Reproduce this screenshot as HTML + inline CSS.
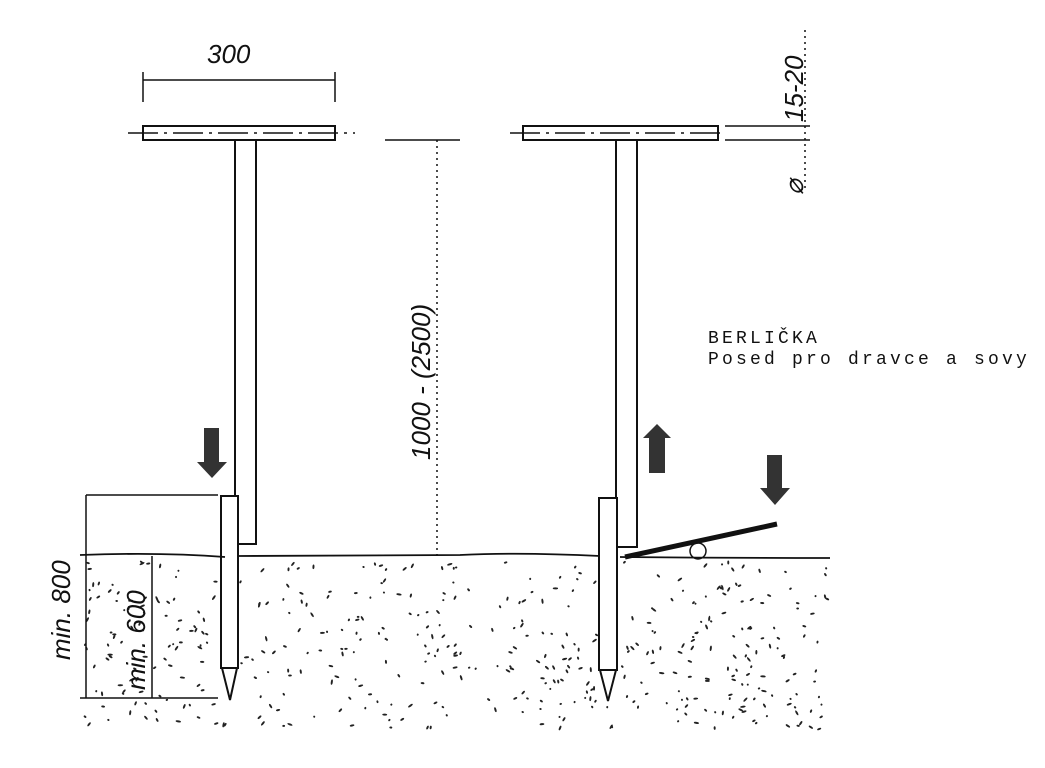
<!DOCTYPE html>
<html><head><meta charset="utf-8"><style>
html,body{margin:0;padding:0;background:#fff;}
svg{display:block}
.h{font-family:"Liberation Sans",sans-serif;font-style:italic;font-size:26px;fill:#111}
.m{font-family:"Liberation Mono",monospace;font-size:18px;letter-spacing:3.2px;fill:#111}
</style></head><body>
<svg id="s" width="1045" height="768" viewBox="0 0 1045 768" xmlns="http://www.w3.org/2000/svg">
<g id="dots" fill="#222"></g>
<g stroke="#111" stroke-width="2" fill="none">
<rect x="143" y="126" width="192" height="14" fill="#fff"/>
<line x1="128" y1="133" x2="355" y2="133" stroke-width="1.5" stroke-dasharray="30,6,3,6"/>
<line x1="143" y1="80" x2="335" y2="80" stroke-width="1.5"/>
<line x1="143" y1="72" x2="143" y2="102" stroke-width="1.5"/>
<line x1="335" y1="72" x2="335" y2="102" stroke-width="1.5"/>
<rect x="235" y="140" width="21" height="404" fill="#fff"/>
<rect x="221" y="496" width="17" height="172" fill="#fff"/>
<path d="M222 668 L230 700 L237 668"/>
<line x1="86" y1="495" x2="218" y2="495" stroke-width="1.5"/>
<line x1="86" y1="495" x2="86" y2="698" stroke-width="1.5"/>
<line x1="152" y1="556" x2="152" y2="698" stroke-width="1.5"/>
<line x1="80" y1="698" x2="218" y2="698" stroke-width="1.5"/>
<path d="M80 555 Q160 552 225 557 M238 556 L460 555 Q520 552 600 556 M620 557 Q720 558 830 558" stroke-width="1.8"/>
<line x1="385" y1="140" x2="460" y2="140" stroke-width="1.5"/>
<line x1="437" y1="140" x2="437" y2="555" stroke-width="1.5" stroke-dasharray="2,4"/>
<rect x="523" y="126" width="195" height="14" fill="#fff"/>
<line x1="510" y1="133" x2="725" y2="133" stroke-width="1.5" stroke-dasharray="30,6,3,6"/>
<rect x="616" y="140" width="21" height="407" fill="#fff"/>
<rect x="599" y="498" width="18" height="172" fill="#fff"/>
<path d="M600 670 L608 701 L616 670"/>
<line x1="725" y1="126" x2="810" y2="126" stroke-width="1.5"/>
<line x1="725" y1="140" x2="810" y2="140" stroke-width="1.5"/>
<line x1="805" y1="30" x2="805" y2="190" stroke-width="1.5" stroke-dasharray="2,4"/>
<line x1="625" y1="557" x2="777" y2="524" stroke-width="5"/>
<circle cx="698" cy="551" r="8" stroke-width="1.5"/>
</g>
<g fill="#333">
<path d="M204 428 H219 V462 H227 L212 478 L197 462 H204Z"/>
<path d="M649 473 V438 H643 L657 424 L671 438 H665 V473Z"/>
<path d="M767 455 H782 V488 H790 L775 505 L760 488 H767Z"/>
</g>
<text class="h" x="207" y="63">300</text>
<text class="h" transform="translate(430,460) rotate(-90)">1000 - (2500)</text>
<text class="h" transform="translate(70,660) rotate(-90)">min. 800</text>
<text class="h" transform="translate(145,690) rotate(-90)">min. 600</text>
<text class="h" transform="translate(803,122) rotate(-90)">15-20</text>
<text class="h" transform="translate(803,195) rotate(-90)">⌀</text>
<text class="m" x="708" y="343">BERLIČKA</text>
<text class="m" x="708" y="364">Posed pro dravce a sovy</text>
</svg>
<script>
var g=document.getElementById('dots'),s=7,ns='http://www.w3.org/2000/svg';
function r(){s=(s*16807)%2147483647;return s/2147483647;}
for(var i=0;i<480;i++){var x=85+r()*745,y=562+r()*168;
if(x>218&&x<240&&y<700)continue;if(x>597&&x<619&&y<702)continue;
var e=document.createElementNS(ns,'ellipse');e.setAttribute('cx',x);e.setAttribute('cy',y);
e.setAttribute('rx',1+r()*1.8);e.setAttribute('ry',1);e.setAttribute('transform','rotate('+(r()*180)+' '+x+' '+y+')');g.appendChild(e);}
</script>
</body></html>
